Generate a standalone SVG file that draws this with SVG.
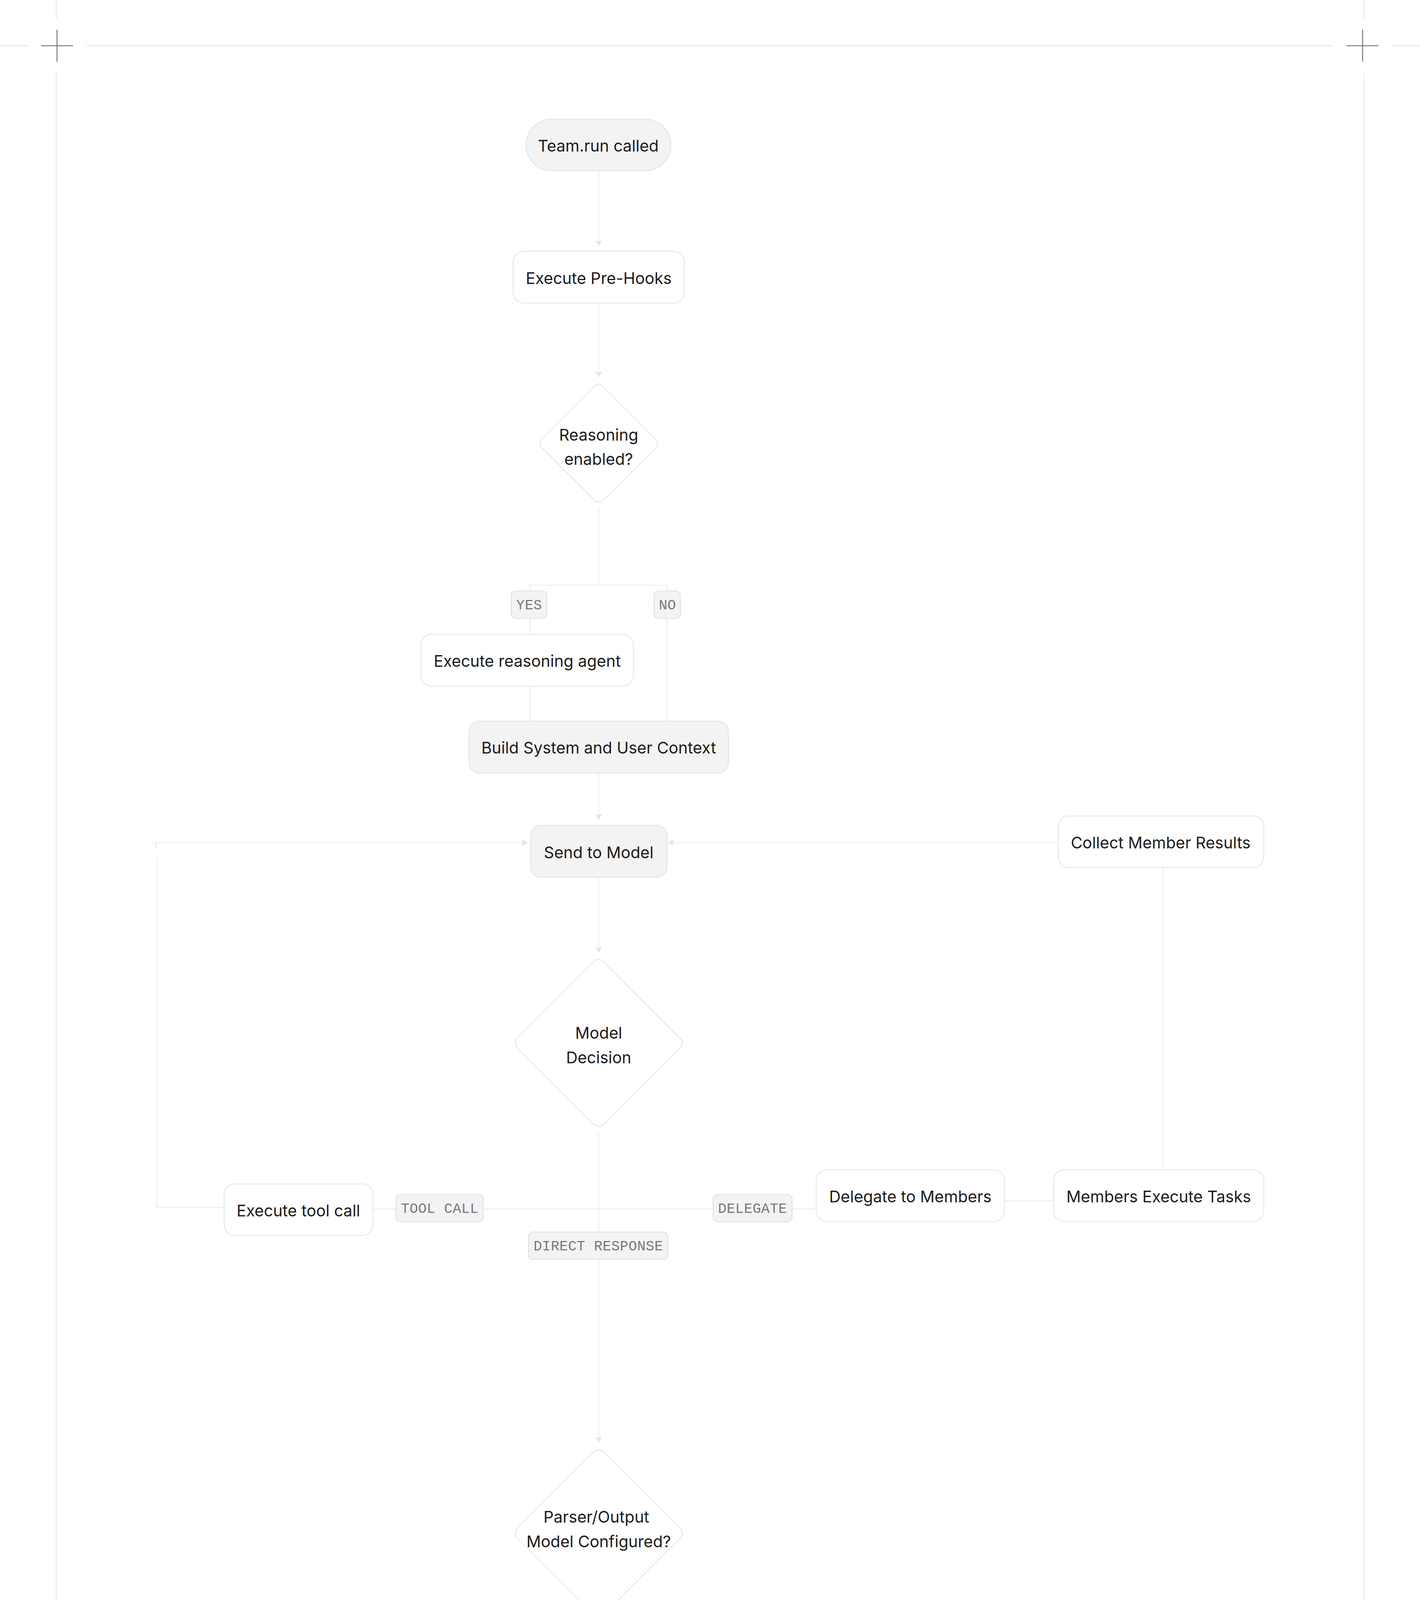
<svg xmlns="http://www.w3.org/2000/svg" width="3636" height="5664" viewBox="0 0 3636 5664">
<defs>
<style>
.frame{stroke:#e9e9e9;stroke-width:2.5;fill:none}
.cross{stroke:#7a7a7a;stroke-width:2.5;fill:none}
.edge{stroke:#ebebeb;stroke-width:2.2;fill:none}
.box{fill:#ffffff;stroke:#e6e6e6;stroke-width:2.2}
.gbox{fill:#f3f3f3;stroke:#e2e2e2;stroke-width:2.2}
.dia{fill:#ffffff;stroke:#e8e8e8;stroke-width:2.2}
.t{font-family:Inter,"Liberation Sans",sans-serif;font-size:41px;fill:#1c1c1c;text-anchor:middle}
.lbox{fill:#f3f3f3;stroke:#e0e0e0;stroke-width:2.2}
.lt{font-family:"Liberation Mono","DejaVu Sans Mono",monospace;font-size:36px;fill:#777777;text-anchor:middle;letter-spacing:0.5px}
</style>
<marker id="arr" viewBox="0 0 14 17" refX="14" refY="8.5" markerWidth="14" markerHeight="17" markerUnits="userSpaceOnUse" orient="auto">
<path d="M0,0 L14,8.5 L0,17 z" fill="#e6e6e6"/>
</marker>
</defs>
<rect x="0" y="0" width="3636" height="5664" fill="#ffffff"/>
<g id="frame">
<path class="frame" d="M0,117 H72 M221,117 H3414 M3564,117 H3636 M0,5547 H72 M221,5547 H3414 M3564,5547 H3636"/>
<path class="frame" d="M144,0 V47 M144,187 V5477 M144,5616 V5664 M3492,0 V47 M3492,187 V5477 M3492,5616 V5664"/>
<path class="cross" d="M105,117 H187 M146,76 V158 M3448,117 H3530 M3489,76 V158 M105,5547 H187 M146,5506 V5588 M3448,5547 H3530 M3489,5506 V5588"/>
</g>
<g id="connectors">
<path class="edge" d="M1533,437 V631" marker-end="url(#arr)"/>
<path class="edge" d="M1533,776 V966" marker-end="url(#arr)"/>
<path class="edge" d="M1533,1300 V1498"/>
<path class="edge" d="M1357,1624 V1498 H1708 V1846"/>
<path class="edge" d="M1357,1757 V1846"/>
<path class="edge" d="M1533,1979 V2099" marker-end="url(#arr)"/>
<path class="edge" d="M1533,2246 V2439" marker-end="url(#arr)"/>
<path class="edge" d="M1533,2902 V3693" marker-end="url(#arr)"/>
<path class="edge" d="M955,3095 H2090"/>
<path class="edge" d="M574,3091 H401 V2197"/>
<path class="edge" d="M399,2173 V2157 H1351" marker-end="url(#arr)"/>
<path class="edge" d="M2572,3074 H2698"/>
<path class="edge" d="M2978,2995 V2221"/>
<path class="edge" d="M2733,2173 V2157 H1710" marker-end="url(#arr)"/>
<path class="edge" d="M1533,4156 V4348"/>
<path class="edge" d="M1300,4475 V4348 H1765 V4663"/>
<path class="edge" d="M1300,4607 V4663"/>
<path class="edge" d="M1532,4795 V4924"/>
<path class="edge" d="M1532,5057 V5252"/>
</g>
<g id="labels">
<g id="lbl-yes1"><rect class="lbox" x="1309" y="1513" width="91" height="70" rx="11"/><text class="lt" x="1355" y="1560">YES</text></g>
<g id="lbl-no1"><rect class="lbox" x="1675" y="1513" width="67" height="70" rx="11"/><text class="lt" x="1709" y="1560">NO</text></g>
<g id="lbl-toolcall"><rect class="lbox" x="1014" y="3058" width="223" height="70" rx="11"/><text class="lt" x="1126" y="3105">TOOL CALL</text></g>
<g id="lbl-delegate"><rect class="lbox" x="1826" y="3058" width="202" height="70" rx="11"/><text class="lt" x="1927" y="3105">DELEGATE</text></g>
<g id="lbl-direct"><rect class="lbox" x="1353" y="3154" width="357" height="70" rx="11"/><text class="lt" x="1532" y="3201">DIRECT RESPONSE</text></g>
<g id="lbl-yes2"><rect class="lbox" x="1255" y="4369" width="92" height="69" rx="11"/><text class="lt" x="1301" y="4415">YES</text></g>
<g id="lbl-no2"><rect class="lbox" x="1734" y="4381" width="68" height="69" rx="11"/><text class="lt" x="1768" y="4427">NO</text></g>
</g>
<g id="n-team"><rect class="gbox" x="1347" y="305" width="371" height="132" rx="66"/><text class="t" x="1532" y="388">Team.run called</text></g>
<g id="n-prehooks"><rect class="box" x="1314" y="643" width="438" height="133" rx="27"/><text class="t" x="1533" y="727">Execute Pre-Hooks</text></g>
<g id="n-reasoning"><path class="dia" d="M1521,990 Q1533,978 1545,990 L1678,1123 Q1690,1135 1678,1147 L1545,1280 Q1533,1292 1521,1280 L1388,1147 Q1376,1135 1388,1123 Z"/><text class="t" x="1533" y="1128">Reasoning</text><text class="t" x="1533" y="1190">enabled?</text></g>
<g id="n-reasonagent"><rect class="box" x="1078" y="1624" width="544" height="133" rx="27"/><text class="t" x="1350" y="1707">Execute reasoning agent</text></g>
<g id="n-build"><rect class="gbox" x="1201" y="1846" width="664" height="133" rx="27"/><text class="t" x="1533" y="1929">Build System and User Context</text></g>
<g id="n-send"><rect class="gbox" x="1359" y="2113" width="349" height="133" rx="27"/><text class="t" x="1533" y="2197">Send to Model</text></g>
<g id="n-collect"><rect class="box" x="2710" y="2089" width="526" height="132" rx="27"/><text class="t" x="2972" y="2172">Collect Member Results</text></g>
<g id="n-decision"><path class="dia" d="M1519,2463 Q1533,2449 1547,2463 L1740,2656 Q1754,2670 1740,2684 L1547,2877 Q1533,2891 1519,2877 L1326,2684 Q1312,2670 1326,2656 Z"/><text class="t" x="1533" y="2659">Model</text><text class="t" x="1533" y="2722">Decision</text></g>
<g id="n-toolcall"><rect class="box" x="574" y="3031" width="381" height="132" rx="27"/><text class="t" x="764" y="3114">Execute tool call</text></g>
<g id="n-delegate"><rect class="box" x="2090" y="2995" width="482" height="132" rx="27"/><text class="t" x="2331" y="3078">Delegate to Members</text></g>
<g id="n-members"><rect class="box" x="2698" y="2995" width="538" height="132" rx="27"/><text class="t" x="2967" y="3078">Members Execute Tasks</text></g>
<g id="n-parser"><path class="dia" d="M1519,3718 Q1533,3704 1547,3718 L1740,3911 Q1754,3925 1740,3939 L1547,4132 Q1533,4146 1519,4132 L1326,3939 Q1312,3925 1326,3911 Z"/><text class="t" x="1527" y="3898">Parser/Output</text><text class="t" x="1533" y="3961">Model Configured?</text></g>
<g id="n-parse"><rect class="box" x="1123" y="4475" width="322" height="132" rx="27"/><text class="t" x="1284" y="4558">Parse Output</text></g>
<g id="n-posthooks"><rect class="box" x="1201" y="4663" width="663" height="132" rx="27"/><text class="t" x="1532" y="4746">Execute Post-Hooks</text></g>
<g id="n-store"><rect class="gbox" x="1271" y="4924" width="523" height="133" rx="27"/><text class="t" x="1532" y="5008">Store Session &amp; Metrics</text></g>
<g id="n-return"><rect class="gbox" x="1273" y="5252" width="520" height="132" rx="66"/><text class="t" x="1533" y="5335">Return TeamRunOutput</text></g>
</svg>
